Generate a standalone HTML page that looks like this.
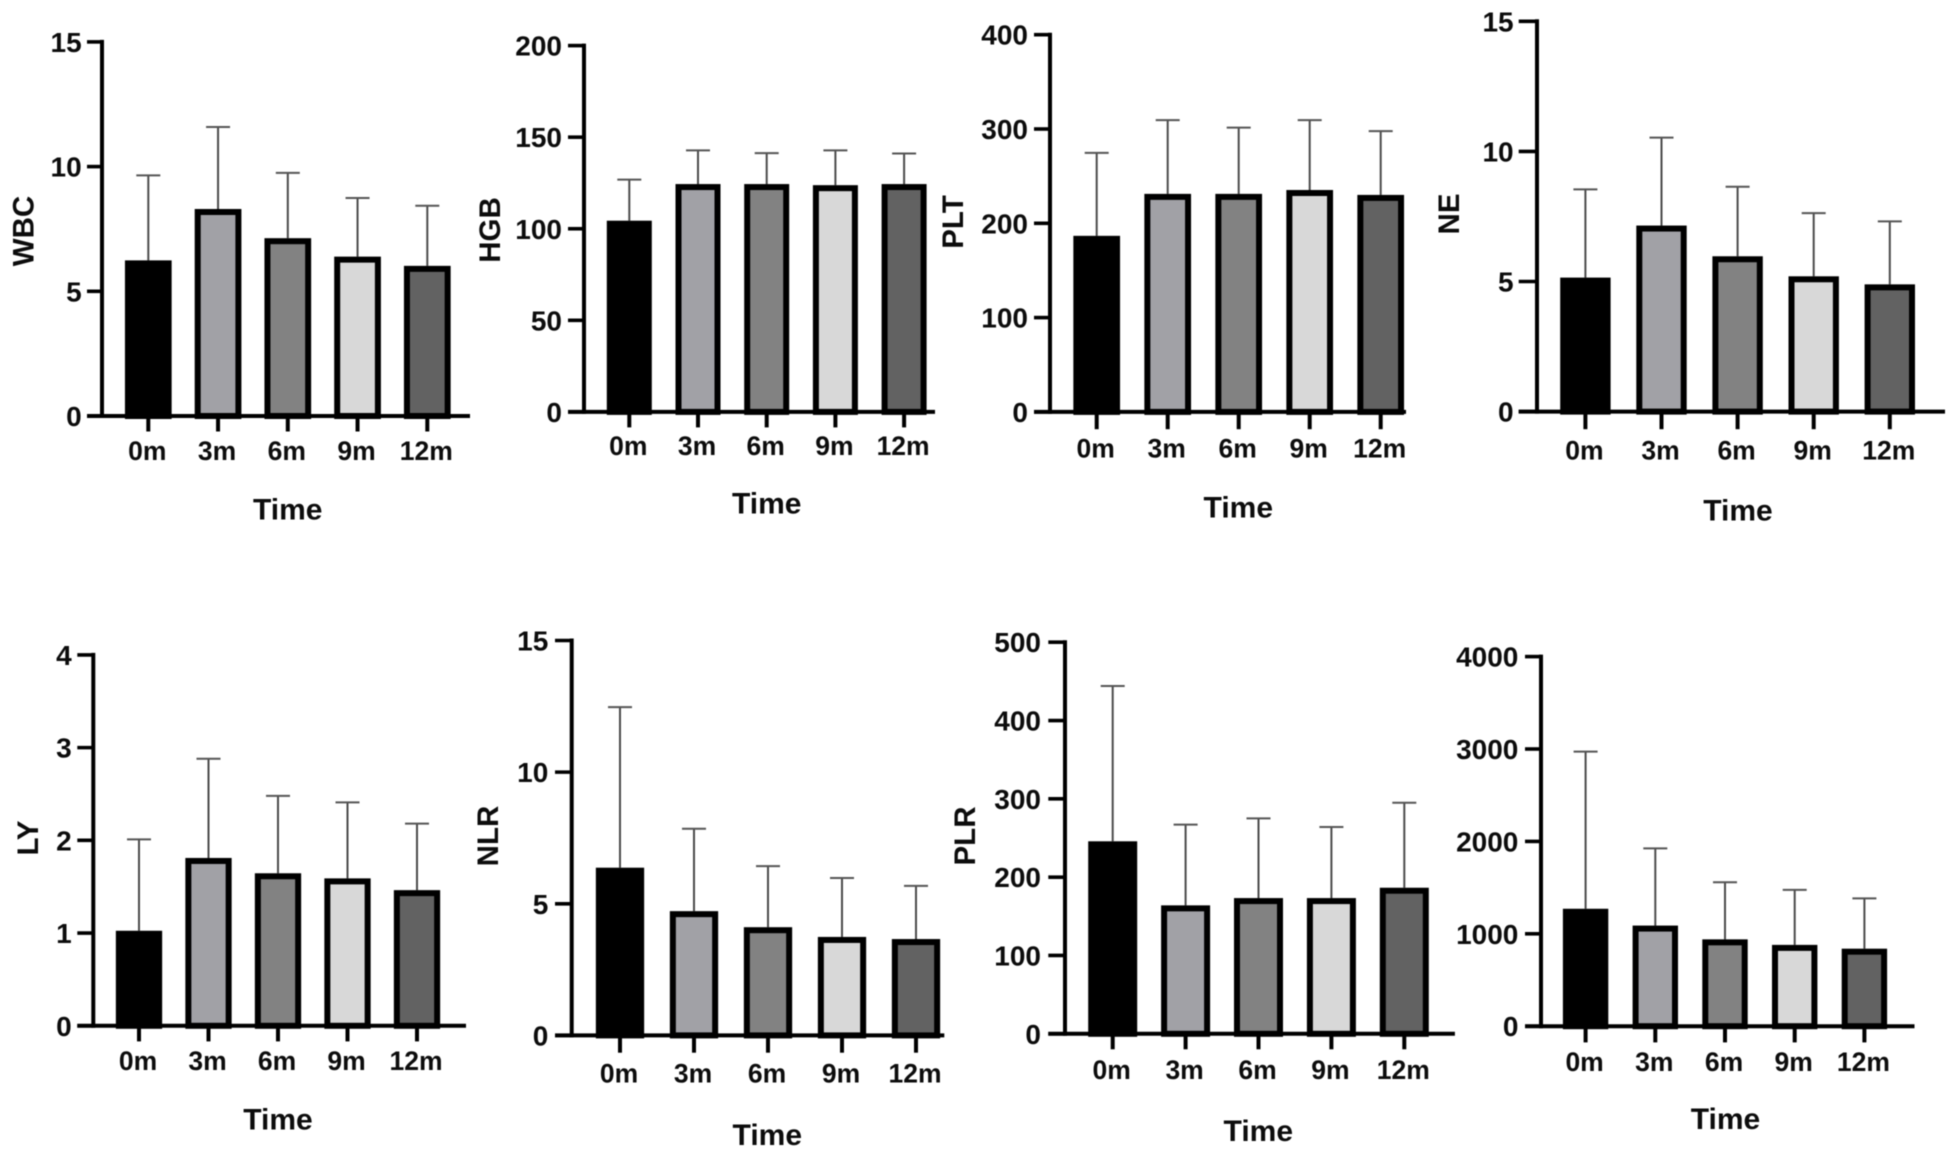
<!DOCTYPE html>
<html lang="en">
<head>
<meta charset="utf-8">
<title>Blood parameters over time</title>
<style>
html,body{margin:0;padding:0;background:#fff;width:1949px;height:1165px;overflow:hidden}
svg{display:block;filter:blur(.4px)}
text{font-family:"Liberation Sans",Arial,sans-serif;font-weight:700;fill:#0c0c0c}
</style>
</head>
<body>
<svg id="figure" xmlns="http://www.w3.org/2000/svg" width="1949" height="1165" viewBox="0 0 1949 1165"></svg>
<script>
const categories = ['0m', '3m', '6m', '9m', '12m'];
const barFills = ['#000000', '#a1a1a6', '#828282', '#d8d8d8', '#626262'];

const wbcTicks = [0, 5, 10, 15];
const wbcMeans = [6.24, 8.3, 7.13, 6.39, 6.02];
const wbcUpper = [9.65, 11.59, 9.75, 8.74, 8.43];

const hgbTicks = [0, 50, 100, 150, 200];
const hgbMeans = [104.4, 124.4, 124.4, 123.8, 124.4];
const hgbUpper = [126.8, 142.8, 141.3, 142.8, 141.1];

const pltTicks = [0, 100, 200, 300, 400];
const pltMeans = [186.7, 231.2, 231.2, 235.3, 230.1];
const pltUpper = [274.7, 309.4, 301.4, 309.4, 297.7];

const neTicks = [0, 5, 10, 15];
const neMeans = [5.15, 7.15, 5.97, 5.2, 4.89];
const neUpper = [8.54, 10.53, 8.64, 7.63, 7.31];

const lyTicks = [0, 1, 2, 3, 4];
const lyMeans = [1.025, 1.81, 1.645, 1.59, 1.463];
const lyUpper = [2.01, 2.88, 2.48, 2.41, 2.18];

const nlrTicks = [0, 5, 10, 15];
const nlrMeans = [6.37, 4.72, 4.11, 3.74, 3.66];
const nlrUpper = [12.47, 7.85, 6.43, 5.98, 5.68];

const plrTicks = [0, 100, 200, 300, 400, 500];
const plrMeans = [245.8, 164, 173.3, 173.3, 186.5];
const plrUpper = [444, 267, 275, 264, 295];

const siiTicks = [0, 1000, 2000, 3000, 4000];
const siiMeans = [1271, 1089, 940, 880, 839];
const siiUpper = [2971, 1924, 1558, 1476, 1383];

const panels = [
  {id:'wbc', title:'WBC', ticks:wbcTicks, means:wbcMeans, upper:wbcUpper, axisX:102, top:41.9, zero:416, left:87, right:470, x0:148.3, step:69.75, barW:46.7, tickEnd:431.5, labelY:459.8, timeY:519.5, timeX:287.7, titleX:33.5, titleY:231, tickRight:81.7},
  {id:'hgb', title:'HGB', ticks:hgbTicks, means:hgbMeans, upper:hgbUpper, axisX:584, top:45.6, zero:411.9, left:568, right:935, x0:629.3, step:68.7, barW:45, tickEnd:427.4, labelY:455.2, timeY:513.5, timeX:766.7, titleX:500, titleY:230, tickRight:562},
  {id:'plt', title:'PLT', ticks:pltTicks, means:pltMeans, upper:pltUpper, axisX:1050, top:34.7, zero:411.9, left:1034, right:1406, x0:1096.7, step:71, barW:46.7, tickEnd:429.2, labelY:457.5, timeY:517.5, timeX:1238.3, titleX:963, titleY:222, tickRight:1028},
  {id:'ne', title:'NE', ticks:neTicks, means:neMeans, upper:neUpper, axisX:1537, top:21.3, zero:411.6, left:1518.7, right:1945, x0:1585.4, step:76.1, barW:50.4, tickEnd:429.2, labelY:459.3, timeY:520.5, timeX:1738, titleX:1459, titleY:214, tickRight:1513.6},
  {id:'ly', title:'LY', ticks:lyTicks, means:lyMeans, upper:lyUpper, axisX:93.3, top:654.9, zero:1025.8, left:77.3, right:466, x0:139, step:69.5, barW:46.3, tickEnd:1041.4, labelY:1070, timeY:1129.5, timeX:278, titleX:38, titleY:838, tickRight:71.7},
  {id:'nlr', title:'NLR', ticks:nlrTicks, means:nlrMeans, upper:nlrUpper, axisX:571.7, top:640.5, zero:1035.4, left:555, right:944.3, x0:620, step:74, barW:48.3, tickEnd:1052.7, labelY:1082.5, timeY:1145, timeX:767.3, titleX:498, titleY:836, tickRight:548.3},
  {id:'plr', title:'PLR', ticks:plrTicks, means:plrMeans, upper:plrUpper, axisX:1065, top:642.2, zero:1033.8, left:1048.3, right:1454.9, x0:1112.7, step:72.9, barW:49, tickEnd:1049.3, labelY:1079, timeY:1141, timeX:1258.3, titleX:975, titleY:836, tickRight:1041},
  {id:'sii', title:'', ticks:siiTicks, means:siiMeans, upper:siiUpper, axisX:1541, top:656.6, zero:1026.2, left:1525, right:1914.5, x0:1585.6, step:69.7, barW:45.4, tickEnd:1042.4, labelY:1071, timeY:1129, timeX:1725.5, titleX:0, titleY:0, tickRight:1518.4}
];

const NS = 'http://www.w3.org/2000/svg';
const figure = document.getElementById('figure');

function shape(parent, tag, props) {
  const node = document.createElementNS(NS, tag);
  for (const key in props) {
    node.setAttribute(key, props[key]);
  }
  parent.appendChild(node);
  return node;
}

function line(parent, x1, y1, x2, y2, width, color) {
  return shape(parent, 'line', {x1: x1, y1: y1, x2: x2, y2: y2, 'stroke-width': width, stroke: color});
}

function label(parent, x, y, size, anchor, content) {
  const node = shape(parent, 'text', {x: x, y: y, 'font-size': size, 'text-anchor': anchor});
  node.textContent = content;
  return node;
}

function drawPanel(p) {
  const maxTick = Math.max.apply(null, p.ticks);
  const yScale = function (v) { return p.zero - (v / maxTick) * (p.zero - p.top); };
  const xScale = function (i) { return p.x0 + i * p.step; };
  const border = 6;

  const group = shape(figure, 'g', {});
  
  

  categories.forEach(function (cat, i) {
    const cx = xScale(i);
    const stem = line(group, cx, yScale(p.means[i]), cx, yScale(p.upper[i]), 2, '#4a4a4a');
    
    
    const cap = line(group, cx - 12, yScale(p.upper[i]), cx + 12, yScale(p.upper[i]), 2, '#555555');
    
    
  });

  categories.forEach(function (cat, i) {
    const cx = xScale(i);
    const barTop = yScale(p.means[i]);
    const bar = shape(group, 'rect', {
      x: cx - p.barW / 2 + border / 2,
      y: barTop + border / 2,
      width: p.barW - border,
      height: Math.max(0, p.zero - barTop - border / 2),
      fill: barFills[i],
      stroke: '#000',
      'stroke-width': border
    });
    
    
  });

  const yAxis = line(group, p.axisX, p.top - 2, p.axisX, p.zero + 2, 4, '#000');
  
  
  const xAxis = line(group, p.left, p.zero, p.right, p.zero, 4, '#000');
  
  

  p.ticks.forEach(function (t) {
    const ty = yScale(t);
    const mark = line(group, p.left, ty, p.axisX, ty, 3.6, '#000');
    
    
    const text = label(group, p.tickRight, ty + 10, 28, 'end', String(t));
    
    
  });

  categories.forEach(function (cat, i) {
    const cx = xScale(i);
    const mark = line(group, cx, p.zero, cx, p.tickEnd, 4, '#000');
    
    
    const text = label(group, cx - 1, p.labelY, 26.5, 'middle', cat);
    
    
  });

  const xTitle = label(group, p.timeX, p.timeY, 30, 'middle', 'Time');
  
  

  if (p.title) {
    const yTitle = label(group, 0, 0, 29.5, 'middle', p.title);
    yTitle.setAttribute('transform', 'translate(' + p.titleX + ' ' + p.titleY + ') rotate(-90)');
    
    
  }
}

panels.forEach(drawPanel);
</script>
</body>
</html>
